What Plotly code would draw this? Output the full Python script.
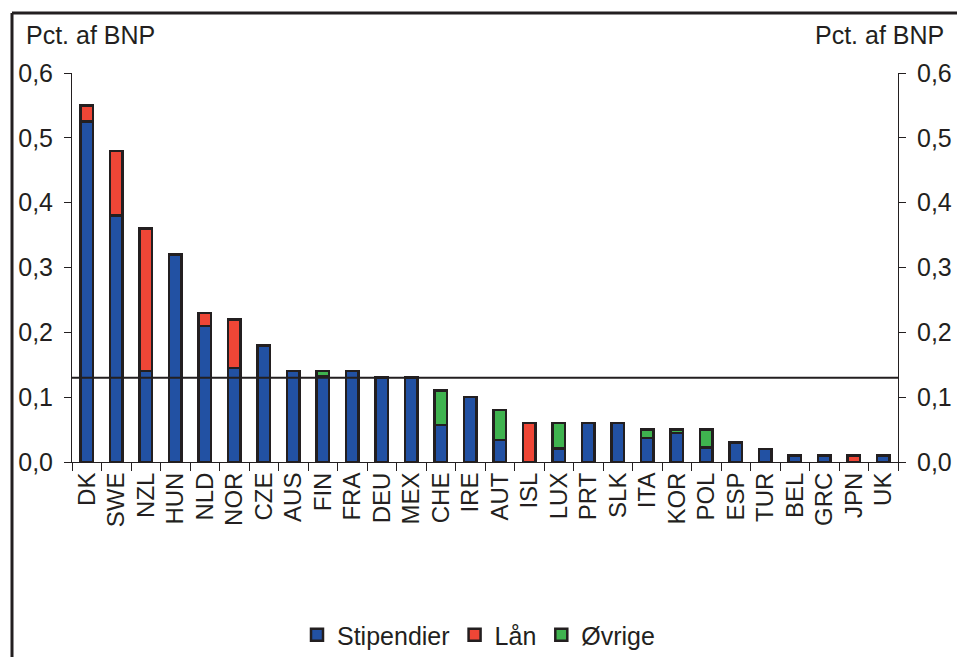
import plotly.graph_objects as go

# OECD countries, public student support as share of GDP
countries = ["DK", "SWE", "NZL", "HUN", "NLD", "NOR", "CZE", "AUS", "FIN", "FRA",
             "DEU", "MEX", "CHE", "IRE", "AUT", "ISL", "LUX", "PRT", "SLK", "ITA",
             "KOR", "POL", "ESP", "TUR", "BEL", "GRC", "JPN", "UK"]
stipendier = [0.525, 0.38, 0.14, 0.32, 0.21, 0.145, 0.18, 0.14, 0.133, 0.14,
              0.13, 0.13, 0.057, 0.10, 0.034, None, 0.021, 0.06, 0.06, 0.037,
              0.045, 0.022, 0.03, 0.02, 0.01, 0.01, None, 0.01]
laan = [0.025, 0.10, 0.22, None, 0.02, 0.075, None, None, None, None,
        None, None, None, None, None, 0.06, None, None, None, None,
        None, None, None, None, None, None, 0.01, None]
oevrige = [None, None, None, None, None, None, None, None, 0.007, None,
           None, None, 0.053, None, 0.046, None, 0.039, None, None, 0.013,
           0.005, 0.028, None, None, None, None, None, None]
average_level = 0.13

y_ticks = [0.0, 0.1, 0.2, 0.3, 0.4, 0.5, 0.6]

FONT = "Liberation Sans, Arial, sans-serif"
TXT = "#231f20"
OUTLINE = "#231f20"

fig = go.Figure()
for name, vals, color in [("Stipendier", stipendier, "#2251a3"),
                          ("Lån", laan, "#ef4636"),
                          ("Øvrige", oevrige, "#3fb34f")]:
    fig.add_trace(go.Bar(x=countries, y=vals, name=name,
                         marker=dict(color=color, line=dict(color=OUTLINE, width=2.5))))

# invisible trace so the right-hand axis is drawn
fig.add_trace(go.Scatter(x=countries, y=[None] * len(countries), yaxis="y2",
                         showlegend=False, hoverinfo="skip"))

# average line
fig.add_shape(type="line", xref="paper", x0=0, x1=1, yref="y", y0=average_level, y1=average_level,
              line=dict(color="#231f20", width=2))

# outer frame (top and left edges)
fx, fy = (12 - 72) / 826, (462 - 13) / 389
fig.add_shape(type="line", xref="paper", yref="paper", x0=fx, x1=1.2, y0=fy, y1=fy,
              line=dict(color="#231f20", width=3))
fig.add_shape(type="line", xref="paper", yref="paper", x0=fx, x1=fx, y0=fy, y1=-0.6,
              line=dict(color="#231f20", width=3))

axis_common = dict(range=[0, 0.6], tickvals=y_ticks, tickformat=".1f",
                   showgrid=False, zeroline=False, showline=True, automargin=False,
                   linecolor="#231f20", linewidth=1, ticks="outside", ticklen=7,
                   ticklabelstandoff=6,
                   tickcolor="#231f20", tickfont=dict(size=25, color=TXT, family=FONT))

fig.update_layout(
    width=957, height=657,
    margin=dict(l=72, r=59, t=73, b=195, autoexpand=False),
    paper_bgcolor="white", plot_bgcolor="white",
    barmode="stack", bargap=0.56,
    separators=",.",
    font=dict(family=FONT, color=TXT, size=25),
    xaxis=dict(tickangle=-90, showline=True, linecolor="#231f20", linewidth=1,
               ticks="outside", tickson="boundaries", ticklen=8, tickcolor="#231f20",
               automargin=False,
               tickfont=dict(size=24, color=TXT, family=FONT), showgrid=False),
    yaxis=dict(side="left", **axis_common),
    yaxis2=dict(side="right", overlaying="y", **axis_common),
    legend=dict(orientation="h", x=0.5, xref="container", xanchor="center",
                y=(657 - 635) / 657, yref="container", yanchor="middle",
                font=dict(size=25, color=TXT, family=FONT), itemwidth=30,
                traceorder="normal"),
    annotations=[
        dict(text="Pct. af BNP", xref="paper", yref="paper", x=(24 - 72) / 826, y=(462 - 35) / 389,
             xanchor="left", yanchor="middle", showarrow=False, font=dict(size=25, color=TXT)),
        dict(text="Pct. af BNP", xref="paper", yref="paper", x=(946 - 72) / 826, y=(462 - 35) / 389,
             xanchor="right", yanchor="middle", showarrow=False, font=dict(size=25, color=TXT)),
    ],
)

fig.write_html("out.html")
